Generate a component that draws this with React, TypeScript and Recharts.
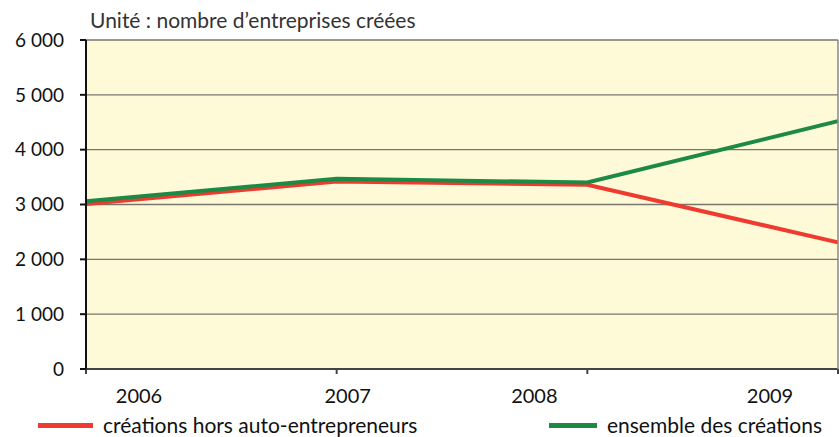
import React from "react";
import {CartesianGrid, Line, LineChart, XAxis, YAxis} from "recharts";

const years = ["2006", "2007", "2008", "2009"];
const horsAuto = [3010, 3420, 3360, 2310];
const ensemble = [3060, 3470, 3400, 4520];
const yTicks = [0, 1000, 2000, 3000, 4000, 5000, 6000];
const seriesNames = ["créations hors auto-entrepreneurs", "ensemble des créations"];

const FONT = "Lato, 'Open Sans', sans-serif";
const RED = "#ef3a2f";
const GREEN = "#1c8a45";

const data = years.map((year, i) => ({year, horsAuto: horsAuto[i], ensemble: ensemble[i]}));

const fmt = (v: number) => String(v).replace(/\B(?=(\d{3})+(?!\d))/g, " ");

// the year labels in the source sit off their tick marks
const labelShift = [53, 11, -53, -68];

const YearTick = (props: any) => {
    const {x, y, payload, index} = props;
    return (
        <text x={x + labelShift[index]} y={y + 27} textAnchor="middle" fill="#111" fontSize={20} fontFamily={FONT}>
            {payload.value}
        </text>
    );
};

const LegendRow = () => (
    <div style={{position: "absolute", left: 0, top: 413, width: 839, boxSizing: "border-box", display: "flex",
        justifyContent: "space-between", padding: "0 17px 0 38px", fontFamily: FONT, fontSize: 21, color: "#111", lineHeight: "24px"}}>
        {seriesNames.map((name, i) => (
            <div key={name} style={{display: "flex", alignItems: "center"}}>
                <span style={{display: "inline-block", width: i === 0 ? 55 : 48, height: 5, background: i === 0 ? RED : GREEN, marginRight: 10}} />
                <span>{name}</span>
            </div>
        ))}
    </div>
);

export default function App() {
    return (
        <div style={{position: "absolute", left: 0, top: 0, width: 839, height: 437, background: "#fff"}}>
            <div style={{position: "absolute", left: 90, top: 7, fontFamily: FONT, fontSize: 21, color: "#333", lineHeight: "26px"}}>
                Unité : nombre d’entreprises créées
            </div>
            <LineChart width={839} height={437} data={data} margin={{top: 40, right: 0, bottom: 0, left: 0}}>
                <CartesianGrid vertical={false} stroke="#77766c" strokeWidth={1.3} fill="#fefad7" fillOpacity={1} />
                <XAxis dataKey="year" stroke="#444" strokeWidth={2} tickSize={5} tick={<YearTick />} interval={0} height={68} />
                <YAxis domain={[0, 6000]} ticks={yTicks} tickFormatter={fmt} width={86} stroke="#111" strokeWidth={2}
                       tickSize={6} tickMargin={16} tick={{fontSize: 19, fontFamily: FONT, fill: "#111"}} interval={0} />
                <YAxis yAxisId="right" orientation="right" width={1} stroke="#888" strokeWidth={1.5} tick={false} tickLine={false} />
                <Line dataKey="horsAuto" name={seriesNames[0]} stroke={RED} strokeWidth={4} dot={false} isAnimationActive={false} />
                <Line dataKey="ensemble" name={seriesNames[1]} stroke={GREEN} strokeWidth={4} dot={false} isAnimationActive={false} />
            </LineChart>
            <LegendRow />
        </div>
    );
}
